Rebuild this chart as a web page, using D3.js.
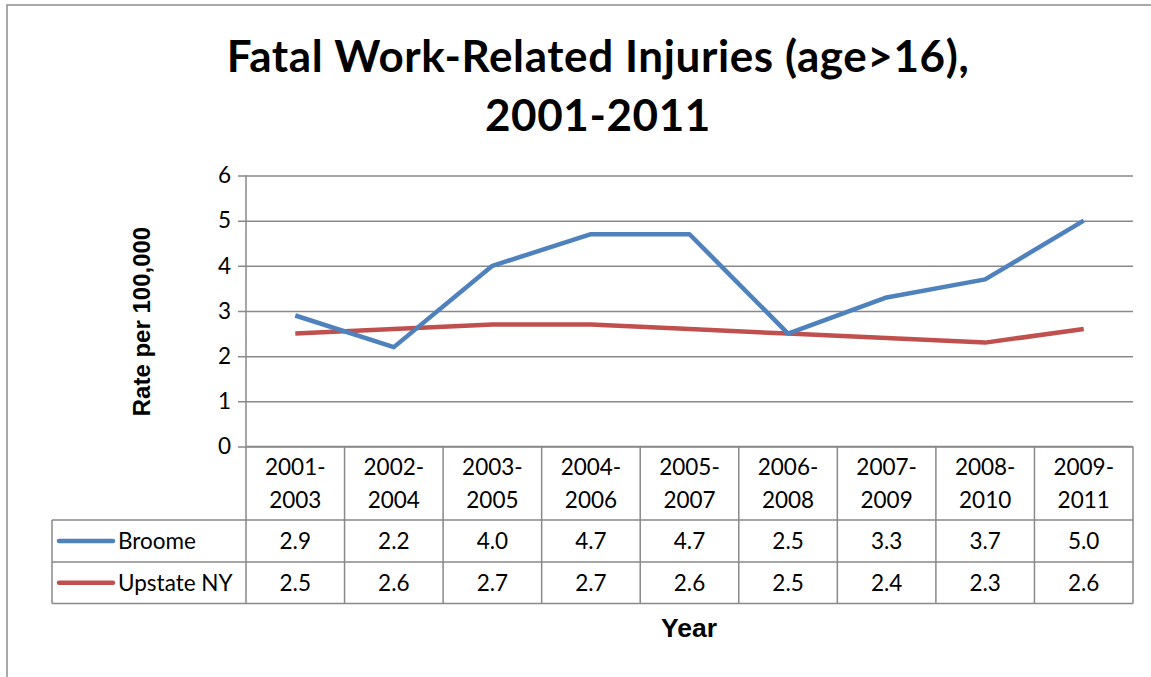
<!DOCTYPE html>
<html><head><meta charset="utf-8">
<script src="https://cdn.jsdelivr.net/npm/d3@7"></script>
<style>body{margin:0;background:#fff;} svg{display:block;font-family:Lato,"Open Sans",sans-serif;}</style>
</head><body>
<svg id="c" width="1151" height="677"></svg>
<script>
const categories = [["2001-","2003"],["2002-","2004"],["2003-","2005"],["2004-","2006"],["2005-","2007"],["2006-","2008"],["2007-","2009"],["2008-","2010"],["2009-","2011"]];
const broome = [2.9, 2.2, 4.0, 4.7, 4.7, 2.5, 3.3, 3.7, 5.0];
const upstate = [2.5, 2.6, 2.7, 2.7, 2.6, 2.5, 2.4, 2.3, 2.6];
const seriesNames = ["Broome", "Upstate NY"];
const seriesColors = ["#4F81BD", "#C0504D"];
const yTicks = [0,1,2,3,4,5,6];
const titleLines = ["Fatal Work-Related Injuries (age>16),", "2001-2011"];

const svg = d3.select("#c");
const gridCol = "#898989";
const L = 246, R = 1133, T = 175.5, B = 446.5;
const row1 = 520, row2 = 562, row3 = 603.5, legL = 52;
const fs = 22.5;

svg.append("rect").attr("x",7).attr("y",5).attr("width",1160).attr("height",700)
  .attr("fill","none").attr("stroke","#8c8c8c").attr("stroke-width",1.5);

const x = d3.scaleBand().domain(d3.range(categories.length)).range([L,R]);
const y = d3.scaleLinear().domain([0,6]).range([B,T]);

// title
svg.append("g").selectAll("text").data(titleLines).join("text")
  .attr("x",598).attr("y",(d,i)=>72+i*59).attr("text-anchor","middle")
  .attr("font-size",44).attr("font-weight","bold").attr("letter-spacing",0.6).text(d=>d);

// gridlines
const yAxis = d3.axisLeft(y).tickValues(yTicks).tickSize(-(R-L)).tickPadding(15).tickFormat(d3.format("d"));
const ga = svg.append("g").attr("transform",`translate(${L},0)`).call(yAxis);
ga.select(".domain").remove();
ga.selectAll(".tick line").attr("stroke",gridCol).attr("stroke-width",1.5).attr("x1",-8);
ga.selectAll(".tick text").attr("font-size",fs).attr("fill","#000").attr("font-family","Lato,'Open Sans',sans-serif");
svg.append("line").attr("x1",L).attr("x2",L).attr("y1",T).attr("y2",B).attr("stroke",gridCol).attr("stroke-width",1.5);

// table lines
const tl = svg.append("g").attr("stroke",gridCol).attr("stroke-width",1.5);
d3.range(categories.length+1).forEach(i=>{
  const xx = i<categories.length ? x(i) : R;
  tl.append("line").attr("x1",xx).attr("x2",xx).attr("y1",B).attr("y2",row3);
});
tl.append("line").attr("x1",L).attr("x2",R).attr("y1",B).attr("y2",B);
[row1,row2,row3].forEach(yy=>tl.append("line").attr("x1",legL).attr("x2",R).attr("y1",yy).attr("y2",yy));
tl.append("line").attr("x1",legL).attr("x2",legL).attr("y1",row1).attr("y2",row3);

// header labels
const hdr = svg.append("g").attr("font-size",fs).attr("text-anchor","middle");
categories.forEach((c,i)=>{
  c.forEach((t,j)=>hdr.append("text").attr("x",x(i)+x.bandwidth()/2).attr("y",475+j*33).text(t));
});

// value rows
const rows = [broome, upstate];
const rowMid = [(row1+row2)/2, (row2+row3)/2];
rows.forEach((vals,r)=>{
  const g = svg.append("g").attr("font-size",fs);
  g.selectAll("text").data(vals).join("text")
    .attr("x",(d,i)=>x(i)+x.bandwidth()/2).attr("y",rowMid[r]+8).attr("text-anchor","middle")
    .text(d=>d3.format(".1f")(d));
  g.append("line").attr("x1",59).attr("x2",113).attr("y1",rowMid[r]).attr("y2",rowMid[r])
    .attr("stroke",seriesColors[r]).attr("stroke-width",4.5).attr("stroke-linecap","round");
  g.append("text").attr("x",118).attr("y",rowMid[r]+8).text(seriesNames[r]);
});

// lines
const line = d3.line().x((d,i)=>x(i)+x.bandwidth()/2).y(d=>y(d));
[upstate, broome].forEach((vals,k)=>{
  svg.append("path").datum(vals).attr("d",line).attr("fill","none")
    .attr("stroke",k===0?seriesColors[1]:seriesColors[0]).attr("stroke-width",4.5).attr("stroke-linejoin","round");
});

// axis titles
svg.append("text").attr("transform","translate(150,321.5) rotate(-90)").attr("text-anchor","middle")
  .attr("font-family","'Liberation Sans',Arial,sans-serif")
  .attr("font-size",24).attr("font-weight","bold").text("Rate per 100,000");
svg.append("text").attr("x",689).attr("y",637).attr("text-anchor","middle")
  .attr("font-family","'Liberation Sans',Arial,sans-serif")
  .attr("font-size",26.5).attr("font-weight","bold").text("Year");
</script>
</body></html>
